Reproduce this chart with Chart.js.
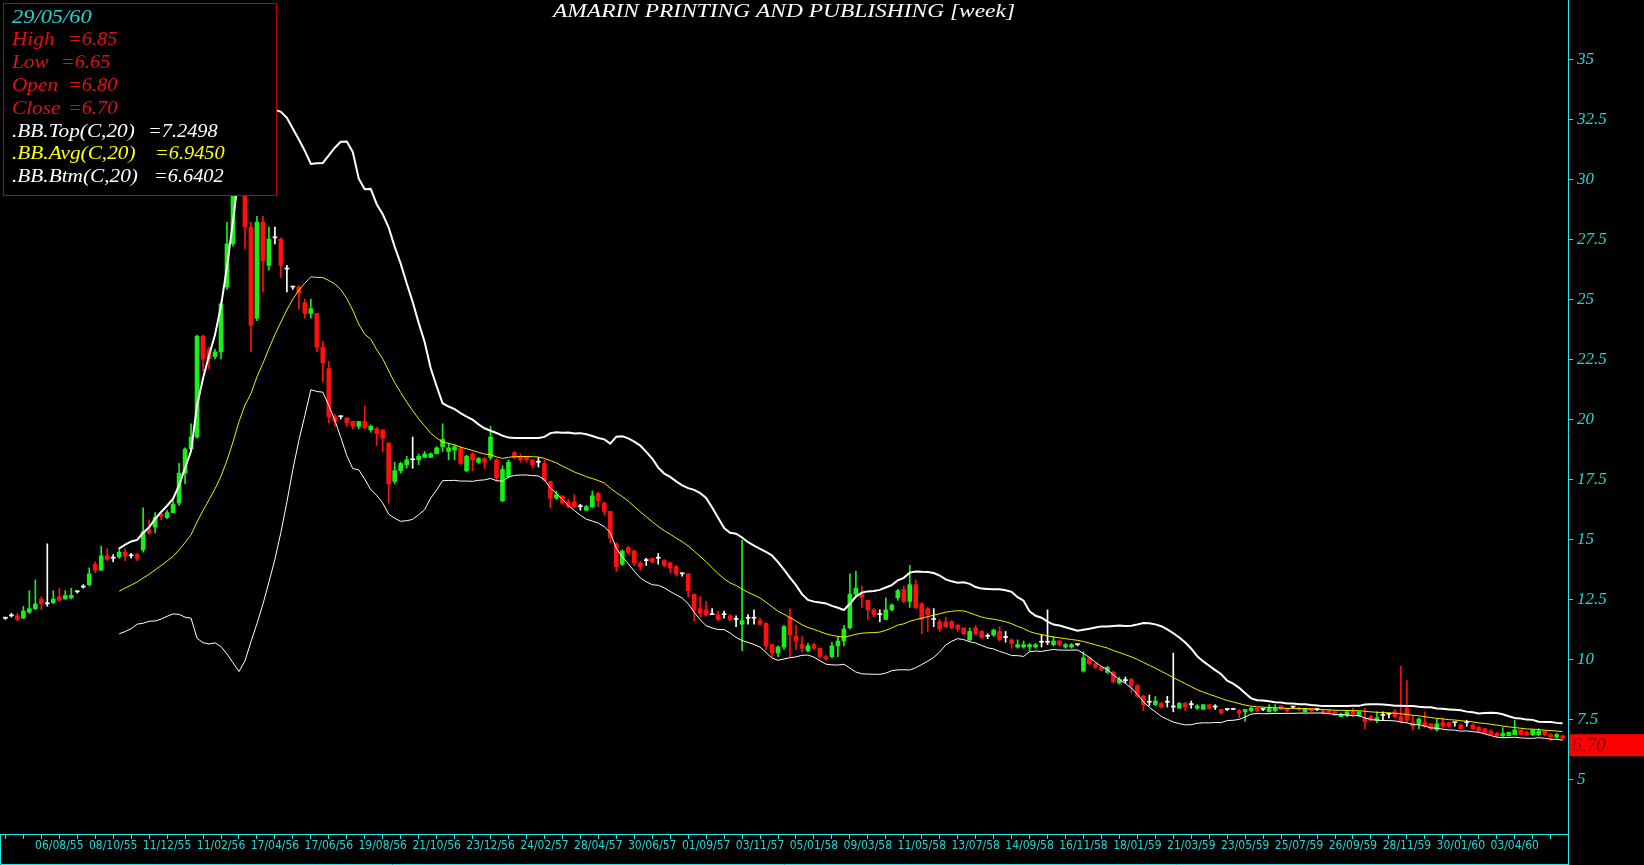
<!DOCTYPE html>
<html>
<head>
<meta charset="utf-8">
<title>AMARIN PRINTING AND PUBLISHING [week]</title>
<script src="https://cdn.jsdelivr.net/npm/chart.js@4.4.1/dist/chart.umd.min.js"></script>
<style>
html,body{margin:0;padding:0;background:#000;overflow:hidden;}
</style>
</head>
<body>
<canvas id="mycanvas" width="1644" height="865"></canvas>
<script>

// weekly candles, index 0 = week of 04/06/55, last = 29/05/60
var opens=[
11.7,11.8,11.8,11.7,11.95,12.1,12.5,12.3,12.35,12.6,
12.5,12.55,12.8,13.0,13.1,13.95,13.7,14.3,14.2,14.25,
14.45,14.3,14.35,14.55,15.4,15.5,16.05,15.9,16.1,16.5,
17.75,18.75,19.25,23.45,22.9,22.6,22.8,25.5,27.3,29.5,
31.0,28.0,24.2,28.2,26.4,27.55,27.5,26.25,25.5,25.5,
24.85,24.4,24.4,23.0,22.1,20.1,20.1,20.05,19.9,19.7,
19.9,19.55,19.6,19.55,19.0,17.4,17.85,18.1,18.3,18.3,
18.4,18.4,18.55,18.85,18.65,18.7,18.8,17.85,18.55,18.2,
18.35,18.4,18.3,16.6,17.6,18.6,18.45,18.45,18.3,18.2,
18.15,17.4,16.7,16.8,16.55,16.55,16.35,16.2,16.35,16.9,
16.5,16.15,14.8,13.95,14.65,14.5,14.0,14.1,14.2,14.2,
14.1,14.0,13.85,13.55,13.55,12.7,12.1,12.05,11.85,11.85,
11.85,11.8,11.65,11.45,11.7,11.7,11.6,11.5,10.6,10.25,
10.5,11.75,10.95,10.6,10.35,10.6,10.45,10.1,10.1,10.55,
10.75,11.3,12.7,12.7,12.45,12.05,11.85,11.65,12.05,12.55,
12.9,12.4,13.1,12.3,12.1,11.65,11.55,11.55,11.55,11.4,
11.3,10.8,11.3,11.15,10.95,11.0,11.15,10.9,10.8,10.5,
10.5,10.5,10.5,10.7,10.7,10.6,10.75,10.5,10.5,10.6,
9.5,10.05,9.8,9.65,9.45,9.45,9.0,9.1,9.15,8.9,
8.45,8.2,8.1,8.15,8.2,8.0,7.95,8.15,8.1,7.95,
7.9,8.1,8.0,7.9,7.9,7.9,7.85,7.8,7.85,7.95,
7.9,7.8,7.85,8.05,7.95,8.0,7.95,7.8,7.95,7.9,
7.85,7.85,7.8,7.6,7.65,7.8,7.65,7.55,7.6,7.45,
7.65,7.7,7.8,7.6,7.95,7.35,7.3,7.35,7.3,7.05,
7.35,7.35,7.35,7.25,7.35,7.25,7.15,7.1,7.0,6.9,
6.8,6.8,6.85,7.05,6.95,6.85,6.85,7.0,6.85,6.75,
6.8]
var highs=[
11.75,11.9,11.9,12.2,12.85,13.3,12.6,14.8,12.85,12.95,
12.85,12.95,12.85,13.1,13.8,14.05,14.7,14.6,14.35,14.65,
14.6,14.4,14.4,16.3,15.8,16.1,16.15,16.2,16.6,18.15,
18.8,19.8,23.5,23.5,23.0,22.9,24.85,28.2,30.5,33.0,
31.5,28.2,28.45,28.45,28.0,28.0,27.55,26.4,25.5,25.55,
25.0,25.0,24.4,23.25,22.4,20.2,20.1,20.05,19.9,19.9,
20.55,19.75,19.65,19.55,19.0,18.2,18.2,18.45,19.25,18.55,
18.65,18.6,18.85,19.8,19.0,18.9,18.85,18.5,18.6,18.4,
18.4,19.7,18.35,18.05,18.3,18.65,18.55,18.45,18.3,18.4,
18.3,17.4,17.0,16.8,16.65,16.85,16.45,16.4,17.0,16.95,
16.55,16.15,14.85,14.55,14.7,14.55,14.05,14.2,14.2,14.4,
14.15,14.05,13.9,13.6,13.55,12.7,12.6,12.4,12.1,12.0,
12.0,11.85,11.8,14.95,11.85,12.05,11.7,11.5,10.6,10.55,
11.4,12.1,11.4,10.95,10.65,10.65,10.45,10.15,10.7,10.9,
11.4,13.55,13.65,13.05,12.45,12.1,12.05,12.55,12.3,12.9,
13.05,13.9,13.3,12.35,12.15,12.1,11.65,11.75,11.6,11.45,
11.3,11.3,11.4,11.2,11.05,11.25,11.35,11.15,10.85,10.8,
10.75,10.65,10.65,11.0,12.05,10.95,10.8,10.65,10.65,10.6,
10.3,10.1,9.85,9.7,9.7,9.5,9.25,9.25,9.2,8.95,
8.5,8.5,8.45,8.2,8.45,10.25,8.2,8.2,8.25,8.1,
8.1,8.1,8.1,7.9,7.9,7.9,7.9,7.9,8.0,7.95,
7.9,8.1,8.1,8.05,7.95,8.0,8.0,7.95,7.95,7.95,
7.85,7.85,7.8,7.75,7.8,7.95,7.8,7.95,7.65,7.8,
7.8,7.7,7.9,9.7,9.1,7.65,7.55,7.8,7.3,7.5,
7.55,7.35,7.35,7.3,7.45,7.3,7.2,7.1,7.05,6.95,
7.15,6.95,7.45,7.05,7.0,7.05,7.1,7.0,6.9,6.9,
6.85]
var lows=[
11.65,11.75,11.6,11.7,11.9,12.05,12.05,12.2,12.3,12.4,
12.5,12.5,12.75,12.95,13.05,13.6,13.7,14.1,14.05,14.2,
14.1,14.2,14.1,14.45,15.2,15.25,15.8,15.85,16.1,16.4,
17.3,18.7,19.2,22.0,22.1,22.5,22.5,25.4,27.2,29.4,
27.1,22.8,24.1,25.3,26.2,27.3,25.9,25.3,25.4,24.6,
24.2,24.2,22.8,21.55,19.85,19.7,20.0,19.7,19.6,19.6,
19.6,19.45,18.9,18.65,16.5,17.3,17.75,17.95,17.95,18.1,
18.4,18.4,18.55,18.65,18.3,18.3,18.1,17.8,17.85,18.15,
17.95,18.3,17.4,16.55,17.55,18.35,18.2,18.2,17.95,18.0,
17.4,16.3,16.65,16.45,16.3,16.3,16.2,16.2,16.3,16.35,
16.0,14.85,13.65,13.9,14.35,13.9,13.7,13.9,14.0,13.95,
13.85,13.6,13.45,13.45,12.6,11.6,11.75,11.8,11.85,11.6,
11.7,11.6,11.35,10.35,11.45,11.45,11.4,10.4,10.1,10.1,
10.4,10.1,10.4,10.3,10.3,10.4,10.05,9.95,10.05,10.1,
10.55,11.25,12.6,12.15,11.65,11.75,11.55,11.65,12.0,12.45,
12.35,12.15,12.1,11.05,11.15,11.35,11.15,11.3,11.25,11.15,
11.0,10.75,11.0,10.85,10.85,10.95,10.75,10.7,10.45,10.45,
10.45,10.35,10.45,10.5,10.6,10.55,10.55,10.45,10.45,10.55,
9.45,9.75,9.6,9.5,9.4,9.0,8.95,9.0,8.6,8.4,
7.85,8.05,8.05,7.95,8.0,7.8,7.95,7.85,7.95,7.9,
7.9,7.9,7.9,7.7,7.85,7.9,7.55,7.4,7.8,7.8,
7.85,7.8,7.8,7.9,7.8,7.95,7.85,7.8,7.8,7.85,
7.75,7.7,7.65,7.6,7.6,7.6,7.6,7.1,7.4,7.35,
7.45,7.55,7.55,7.35,7.35,7.05,7.1,7.15,7.05,7.0,
7.15,7.15,7.2,7.1,7.2,7.05,6.95,6.9,6.85,6.75,
6.75,6.8,6.85,6.85,6.8,6.8,6.8,6.8,6.6,6.7,
6.65]
var closes=[
11.7,11.8,11.65,12.0,12.1,12.3,12.3,12.3,12.5,12.45,
12.65,12.65,12.8,13.0,13.55,13.7,14.3,14.15,14.2,14.45,
14.3,14.3,14.2,15.3,15.25,15.9,15.95,16.1,16.45,17.75,
18.75,19.25,23.45,22.5,22.5,22.8,24.8,27.3,29.5,31.5,
28.0,23.9,28.2,26.6,27.5,27.55,26.4,26.25,25.5,25.25,
24.4,24.6,23.0,22.35,20.1,19.9,20.1,19.85,19.7,19.9,
19.65,19.7,19.4,19.2,17.3,17.85,18.15,18.3,18.3,18.45,
18.55,18.55,18.8,19.15,18.8,18.85,18.15,18.45,18.3,18.35,
18.2,19.25,17.55,17.9,18.2,18.4,18.3,18.3,18.1,18.2,
17.45,16.7,16.85,16.5,16.35,16.35,16.35,16.35,16.8,16.6,
16.15,15.05,13.85,14.5,14.45,14.0,13.85,14.1,14.05,14.2,
13.9,13.8,13.55,13.55,12.85,12.05,11.9,11.85,11.85,11.65,
11.85,11.65,11.65,11.6,11.7,11.7,11.45,10.55,10.25,10.5,
11.35,11.0,10.75,10.45,10.55,10.45,10.1,10.0,10.55,10.75,
11.25,12.7,12.95,12.55,12.05,11.85,11.85,12.05,12.25,12.85,
12.4,13.1,12.15,11.65,11.85,11.65,11.25,11.35,11.3,11.25,
11.05,11.15,11.05,10.9,10.95,11.2,10.8,10.9,10.65,10.6,
10.6,10.6,10.6,10.7,10.7,10.75,10.6,10.6,10.6,10.6,
10.05,9.8,9.65,9.55,9.65,9.05,9.15,9.1,8.9,8.45,
8.1,8.2,8.25,8.0,8.2,8.0,8.15,8.0,8.1,8.05,
8.1,7.95,8.0,7.75,7.9,7.9,7.75,7.9,7.95,7.85,
7.9,7.95,7.95,7.9,7.85,8.0,7.9,7.95,7.85,7.9,
7.75,7.75,7.65,7.7,7.8,7.65,7.8,7.4,7.45,7.55,
7.65,7.7,7.6,7.4,7.45,7.2,7.5,7.2,7.1,7.3,
7.2,7.2,7.35,7.1,7.35,7.1,7.0,6.9,6.85,6.8,
6.9,6.95,7.05,6.85,6.85,7.05,7.0,6.85,6.75,6.85,
6.7]

// date labels shown under every 9th week, starting at week 9
var tickLabels=["06/08/55","08/10/55","11/12/55","11/02/56","17/04/56","17/06/56","19/08/56",
"21/10/56","23/12/56","24/02/57","28/04/57","30/06/57","01/09/57","03/11/57","05/01/58",
"09/03/58","11/05/58","13/07/58","14/09/58","16/11/58","18/01/59","21/03/59","23/05/59",
"25/07/59","26/09/59","28/11/59","30/01/60","03/04/60"]
var lastDate="29/05/60"
var bbLegend=[7.2498,6.9450,6.6402]   // values printed in the info box
var chartTitle="AMARIN PRINTING AND PUBLISHING [week]"

var CYAN="#22d6d6"
var CYANLINE="#1ee8e8"
var GREEN="#19f019"
var RED="#ff1010"

//-----------------------------------------------------------------------------------------

function candleColor(i){
    if (closes[i]>opens[i]) return GREEN;
    if (closes[i]<opens[i]) return RED;
    return "#ffffff";
}

// Bollinger bands of the closes, 20 weeks, 2 std
function bollinger(period,mult){
    var top=[],avg=[],btm=[];
    for (var i=period-1;i<closes.length;i++){
        var s=0;
        for (var j=i-period+1;j<=i;j++) s+=closes[j];
        var m=s/period;
        var v=0;
        for (var j=i-period+1;j<=i;j++) v+=(closes[j]-m)*(closes[j]-m);
        var sd=Math.sqrt(v/period);
        top.push({x:i,y:m+mult*sd});
        avg.push({x:i,y:m});
        btm.push({x:i,y:m-mult*sd});
    }
    return {top:top,avg:avg,btm:btm};
}

// text stretched sideways, the original font is wider than Liberation Serif
function wideText(c,t,x,y,sx){
    c.save();
    c.translate(x,y);
    c.scale(sx,1);
    c.fillText(t,0,0);
    c.restore();
}

var decor={
    id:"decor",
    beforeDraw:function(chart){
        var c=chart.ctx;
        c.save();
        c.fillStyle="#000";
        c.fillRect(0,0,chart.width,chart.height);
        c.restore();
    },
    afterDraw:function(chart){
        var c=chart.ctx, a=chart.chartArea, ys=chart.scales.y;
        var last=closes.length-1;
        c.save();

        // axis frame
        c.strokeStyle=CYANLINE;
        c.lineWidth=1;
        c.beginPath();
        c.moveTo(a.right+0.5,0); c.lineTo(a.right+0.5,chart.height);
        c.moveTo(0,a.bottom+0.5); c.lineTo(a.right,a.bottom+0.5);
        c.moveTo(0.5,a.bottom); c.lineTo(0.5,chart.height-0.5); c.lineTo(a.right,chart.height-0.5);
        c.stroke();

        // title
        c.fillStyle="#ffffff";
        c.font='italic 19px "Liberation Serif", serif';
        c.textAlign="left";
        c.textBaseline="alphabetic";
        var tw=c.measureText(chartTitle).width;
        var sx=462/tw;
        wideText(c,chartTitle,(a.left+a.right)/2-231,17,sx);

        // info box
        c.fillStyle="#000";
        c.fillRect(3,3,273,192);
        c.strokeStyle="#c80000";
        c.strokeRect(3.5,3.5,273,192);
        c.font='italic 19px "Liberation Serif", serif';
        var rows=[
            [lastDate,"",0,CYAN],
            ["High","=" + highs[last].toFixed(2),68,"#e01010"],
            ["Low","=" + lows[last].toFixed(2),61,"#e01010"],
            ["Open","=" + opens[last].toFixed(2),68,"#e01010"],
            ["Close","=" + closes[last].toFixed(2),68,"#e01010"],
            [".BB.Top(C,20)","=" + bbLegend[0].toFixed(4),148,"#ffffff"],
            [".BB.Avg(C,20)","=" + bbLegend[1].toFixed(4),155,"#ffff00"],
            [".BB.Btm(C,20)","=" + bbLegend[2].toFixed(4),154,"#ffffff"]
        ];
        for (var i=0;i<rows.length;i++){
            var by=22.5+i*22.8;
            c.fillStyle=rows[i][3];
            wideText(c,rows[i][0],12,by,i==0?1.18:1.12);
            if (rows[i][1]) wideText(c,rows[i][1],rows[i][2],by,1.07);
        }

        // last close marker on the price axis
        var py=ys.getPixelForValue(closes[last]);
        c.fillStyle="#ff0000";
        c.fillRect(a.right+1,py-4,chart.width-a.right-1,22);
        c.fillStyle="#8c0000";
        c.font='italic 18px "Liberation Serif", serif';
        c.textBaseline="middle";
        wideText(c,closes[last].toFixed(2),a.right+4,py+8,1.08);
        c.restore();
    }
};

function drawchart(){
    const canvas=document.getElementById("mycanvas");
    const ctx=canvas.getContext("2d");
    var bb=bollinger(20,2);

    var wicks=[], bodies=[];
    for (var i=0;i<closes.length;i++){
        wicks.push({x:i,y:[lows[i],highs[i]]});
        bodies.push({x:i,y:[opens[i],closes[i]]});
    }

    var chart=new Chart(ctx,{
        type:"bar",
        data:{
            datasets:[
                {type:"line",data:bb.top,borderColor:"#ffffff",borderWidth:2,pointRadius:0,tension:0,order:0},
                {type:"line",data:bb.avg,borderColor:"#f0f000",borderWidth:1,pointRadius:0,tension:0,order:0},
                {type:"line",data:bb.btm,borderColor:"#ffffff",borderWidth:1,pointRadius:0,tension:0,order:0},
                {type:"bar",data:bodies,backgroundColor:function(c){return candleColor(c.dataIndex);},
                    barThickness:4,minBarLength:1,grouped:false,borderWidth:0,order:1},
                {type:"bar",data:wicks,backgroundColor:function(c){return candleColor(c.dataIndex);},
                    barThickness:1,grouped:false,borderWidth:0,order:2}
            ]
        },
        options:{
            responsive:false,
            devicePixelRatio:1,
            animation:false,
            layout:{padding:0},
            plugins:{legend:{display:false},tooltip:{enabled:false},title:{display:false}},
            scales:{
                x:{
                    type:"linear",
                    min:-0.9,
                    max:260.9,
                    offset:false,
                    afterFit:function(s){ s.height=31; s.paddingLeft=0; s.paddingRight=0; },
                    border:{display:false},
                    grid:{drawOnChartArea:false,drawTicks:true,tickLength:5,tickColor:CYANLINE,offset:false},
                    ticks:{
                        stepSize:3,
                        autoSkip:false,
                        maxRotation:0,
                        includeBounds:false,
                        padding:0,
                        color:CYAN,
                        font:{family:'"Liberation Sans Narrow", "Arial Narrow", "DejaVu Sans Condensed", sans-serif',size:12},
                        callback:function(v){
                            var k=Math.round(v);
                            if (k>=9 && k%9==0 && tickLabels[k/9-1]) return tickLabels[k/9-1];
                            return "";
                        }
                    }
                },
                y:{
                    position:"right",
                    min:2.71,
                    max:37.46,
                    beginAtZero:false,
                    afterFit:function(s){ s.width=76; s.paddingTop=0; s.paddingBottom=0; },
                    border:{display:false},
                    grid:{drawOnChartArea:false,drawTicks:true,tickLength:5,tickColor:CYANLINE},
                    ticks:{
                        stepSize:2.5,
                        includeBounds:false,
                        padding:4,
                        color:CYAN,
                        font:{family:'"Liberation Serif", serif',style:"italic",size:17}
                    }
                }
            }
        },
        plugins:[decor]
    });
}

drawchart();
</script>
</body>
</html>
